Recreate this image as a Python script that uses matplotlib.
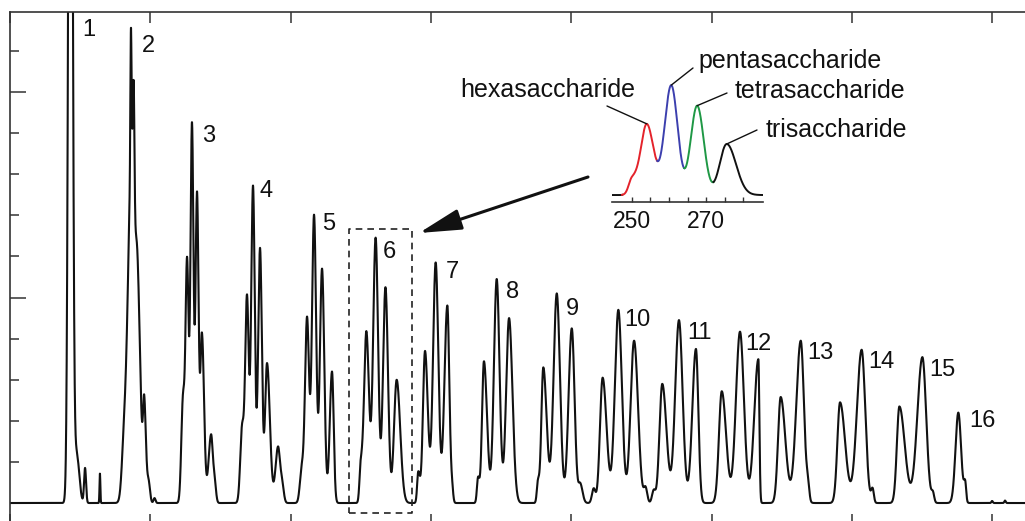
import numpy as np
import matplotlib
matplotlib.use("Agg")
import matplotlib.pyplot as plt
from matplotlib.ticker import MultipleLocator, NullLocator

plt.rcParams['font.family'] = ['Liberation Sans', 'DejaVu Sans']

# peak table: time (s), height, left / right width (s)
peak_time = [43.1, 47.5, 53.5, 64.1,                               # 1
             81.0, 86.8, 86.2, 88.2, 91.0, 95.7, 98.8, 103.0,      # 2
             123.3, 126.2, 129.7, 133.3, 136.8, 143.3, 145.8,      # 3
             165.4, 168.9, 173.2, 178.2, 183.2, 191.0, 193.9,      # 4
             207.9, 211.7, 216.7, 222.4, 229.5,                    # 5
             250.0, 254.0, 260.6, 267.6, 275.6,                    # 6
             291.0, 295.8, 303.4, 311.7, 315.0,                    # 7
             333.6, 337.8, 346.9, 355.7,                           # 8
             376.3, 380.1, 389.7, 400.4, 406.5,                    # 9
             416.0, 422.4, 433.6, 444.8, 453.0,                    # 10
             458.8, 464.9, 476.8, 488.9,                           # 11
             507.3, 520.3, 533.4,                                  # 12
             549.3, 563.6, 568.8,                                  # 13
             591.6, 607.0, 614.8,                                  # 14
             633.9, 650.3, 657.8,                                  # 15
             675.9, 680.8, 700.0, 709.2]                           # 16
peak_height = [30.0, 1.2, 0.85, 0.72,
               0.9, 8.5, 3.2, 2.5, 5.0, 2.3, 0.5, 0.12,
               2.5, 5.8, 9.2, 7.5, 4.1, 1.65, 0.5,
               1.8, 5.0, 7.7, 6.2, 3.4, 1.35, 0.45,
               0.8, 4.5, 7.0, 5.7, 3.2,
               0.9, 4.15, 6.45, 5.25, 3.0,
               0.75, 3.7, 5.85, 4.8, 0.35,
               0.6, 3.45, 5.45, 4.5,
               0.5, 3.3, 5.1, 4.25, 0.45,
               0.35, 3.05, 4.7, 3.95, 0.35,
               0.3, 2.9, 4.45, 3.75,
               2.72, 4.17, 3.5,
               2.58, 3.95, 0.35,
               2.45, 3.73, 0.33,
               2.35, 3.55, 0.22,
               2.2, 0.45, 0.05, 0.06]
width_left = [1.3, 1.8, 0.7, 0.3,
              1.5, 2.8, 0.4, 0.5, 1.6, 0.9, 1.0, 0.7,
              1.2, 1.1, 1.1, 1.1, 1.15, 1.8, 1.0,
              1.3, 1.3, 1.3, 1.35, 1.4, 1.8, 1.2,
              1.3, 1.45, 1.5, 1.55, 1.6,
              0.9, 1.6, 1.8, 1.75, 1.9,
              0.8, 1.5, 1.9, 2.1, 1.2,
              0.8, 1.4, 2.0, 2.1,
              0.8, 1.4, 2.3, 2.3, 1.3,
              1.2, 1.9, 2.5, 2.5, 1.2,
              1.2, 2.0, 2.7, 2.6,
              2.0, 2.9, 3.0,
              1.9, 3.2, 1.0,
              1.9, 3.4, 1.0,
              1.8, 3.6, 1.0,
              2.0, 0.9, 0.5, 0.5]
width_right = [1.3, 1.8, 0.7, 0.3,
               1.5, 2.0, 0.4, 0.5, 2.0, 1.2, 1.0, 0.7,
               1.2, 1.1, 1.1, 1.1, 1.5, 1.2, 1.0,
               1.3, 1.3, 1.3, 1.35, 2.0, 1.4, 1.2,
               1.3, 1.45, 1.5, 1.6, 1.2,
               1.5, 1.85, 1.75, 1.8, 2.5,
               1.2, 2.0, 1.9, 1.4, 0.8,
               1.0, 2.2, 2.0, 2.4,
               1.0, 2.4, 2.3, 2.0, 1.6,
               1.2, 2.8, 2.5, 2.8, 1.2,
               1.2, 3.0, 2.6, 1.7,
               3.1, 2.8, 0.7,
               3.3, 2.3, 0.9,
               3.6, 2.6, 0.9,
               3.8, 2.7, 0.9,
               2.0, 0.7, 0.5, 0.5]

group_labels = [str(i) for i in range(1, 17)]
label_time = [51.3, 94.1, 136.8, 177.5, 222.4, 265.9, 310.8, 353.5,
              396.3, 437.6, 482.5, 523.9, 568.1, 611.5, 655.0, 683.5]
label_level = [11.51, 11.12, 8.93, 7.59, 6.79, 6.11, 5.62, 5.13,
               4.72, 4.45, 4.14, 3.87, 3.65, 3.43, 3.24, 2.0]

# zoomed group 6
inset_names = ['hexasaccharide', 'pentasaccharide', 'tetrasaccharide', 'trisaccharide']
inset_colors = ['#e4232b', '#3c3fae', '#1f9845', '#111111']
inset_edges = [247.3, 256.8, 264.1, 272.0, 285.4]
inset_apex = [254.0, 260.6, 267.6, 275.6]
box_time = [241.6, 286.5]
box_level = [-0.24, 6.67]


def trace(t):
    t = np.asarray(t, float)[:, None]
    c = np.array(peak_time)
    w = np.where(t < c, np.array(width_left), np.array(width_right))
    return (np.array(peak_height) * np.exp(-0.5 * ((t - c) / w) ** 2)).sum(axis=1)


W, H = 1025, 521


def fpx(x, y):
    # figure pixel (from top-left) -> figure fraction
    return x / W, 1 - y / H


fig = plt.figure(figsize=(W / 100, H / 100), dpi=100)
ax = fig.add_axes([10 / W, -4 / H, 1020 / W, 513 / H])

t = np.linspace(0, 727, 9000)
ax.plot(t, trace(t), color='#111111', lw=1.5, solid_joinstyle='round')
ax.set_xlim(0, 727)
ax.set_ylim(-0.535, 11.95)

ax.xaxis.set_major_locator(MultipleLocator(100))
ax.xaxis.set_minor_locator(NullLocator())
ax.yaxis.set_major_locator(MultipleLocator(5))
ax.yaxis.set_minor_locator(MultipleLocator(1))
ax.tick_params(axis='x', which='both', direction='in', top=True, bottom=True,
               length=8, width=1.1, color='#333333', labelbottom=False)
ax.tick_params(axis='y', which='major', direction='in', left=True, right=False,
               length=11.5, width=1.1, color='#333333', labelleft=False)
ax.tick_params(axis='y', which='minor', direction='in', left=True, right=False,
               length=6.5, width=1.1, color='#333333')
for s in ax.spines.values():
    s.set_linewidth(1.2)
    s.set_color('#333333')

for lab, lt, lv in zip(group_labels, label_time, label_level):
    ax.text(lt, lv, lab, fontsize=17, ha='left', va='center', color='#111111')

# dashed box around group 6
ax.plot([box_time[0], box_time[1], box_time[1], box_time[0], box_time[0]],
        [box_level[0], box_level[0], box_level[1], box_level[1], box_level[0]],
        color='#222222', lw=1.2, ls=(0, (4, 3)))

ax.annotate('', xy=fpx(419, 233), xycoords='figure fraction',
            xytext=fpx(588, 177), textcoords='figure fraction',
            arrowprops=dict(arrowstyle='-|>,head_length=1.3,head_width=0.32',
                            mutation_scale=20, color='#111111', lw=2.2,
                            shrinkA=0, shrinkB=0))

# inset
ax_in = fig.add_axes([612 / W, 1 - 202 / H, 151 / W, 132 / H])
ax_in.patch.set_alpha(0)
ti = np.linspace(244.6, 285.4, 1500)
yi = trace(ti)
edges = [244.6] + inset_edges
cols = ['#111111'] + inset_colors
for a, b, c in zip(edges[:-1], edges[1:], cols):
    m = (ti >= a) & (ti <= b + 0.05)
    ax_in.plot(ti[m], yi[m], color=c, lw=1.4)
ax_in.set_xlim(244.6, 285.4)
ax_in.set_ylim(-0.41, 7.35)
for side in ['left', 'right', 'top']:
    ax_in.spines[side].set_visible(False)
ax_in.spines['bottom'].set_linewidth(1.2)
ax_in.spines['bottom'].set_color('#333333')
ax_in.set_yticks([])
ax_in.set_xticks([250, 255, 260, 265, 270, 275, 280])
ax_in.set_xticklabels(['250', '', '', '', '270', '', ''])
ax_in.tick_params(axis='x', direction='in', length=3.5, width=1.0, color='#333333',
                  labelsize=16.5, pad=6, labelcolor='#111111')

name_pos = [(460, 97), (698, 68), (735, 98), (766, 137)]
leader_end = [(607, 106), (693, 68), (727, 93), (757, 130)]
apex_level = trace(inset_apex)
for name, (nx, ny), (lx, ly), at, av in zip(inset_names, name_pos, leader_end,
                                             inset_apex, apex_level):
    fig.text(*fpx(nx, ny), name, fontsize=18, ha='left', va='baseline', color='#111111')
    ax_in.annotate('', xy=(at, av), xycoords='data', xytext=fpx(lx, ly),
                   textcoords='figure fraction',
                   arrowprops=dict(arrowstyle='-', color='#111111', lw=1.0,
                                   shrinkA=0, shrinkB=0))

fig.savefig('out.png', dpi=100)
